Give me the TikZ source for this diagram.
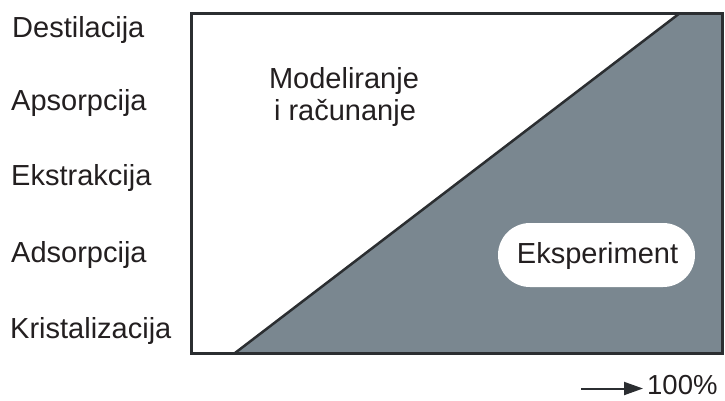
\documentclass[tikz,border=0pt]{standalone}
\usepackage{fontspec}
\setmainfont{Liberation Sans}
\usetikzlibrary{arrows.meta}
\definecolor{ink}{HTML}{231F20}
\definecolor{framec}{HTML}{2B2E31}
\definecolor{slate}{HTML}{7A8790}
\begin{document}
\begin{tikzpicture}[x=1pt,y=-1pt,
  lbl/.style={font=\fontsize{29}{34}\selectfont, text=ink, inner sep=0pt},
  leftlbl/.style={lbl, anchor=base west},
  pillbox/.style={fill=white, draw=none, rounded corners=32pt, minimum width=197pt, minimum height=64pt, inner sep=0pt}]
\useasboundingbox (0,0) rectangle (725,400);
\fill[white] (0,0) rectangle (725,400);
% frame corners
\coordinate (tl) at (191,13);
\coordinate (br) at (722,353);
\coordinate (dbot) at (235,353);
\coordinate (dtop) at (680,13);
\coordinate (tr) at (722,13);
% shaded region
\fill[slate] (dbot) -- (dtop) -- (tr) -- (br) -- cycle;
\draw[framec, line width=2.5pt] (dbot) -- (dtop);
\draw[framec, line width=3pt] (tl) rectangle (br);
% pill
\node[pillbox] (pill) at (596.5,255) {};
\node[lbl, anchor=base] (eks) at (597.5,263) {Eksperiment};
% modeling text
\node[lbl, anchor=base] (mod1) at (344,88) {Modeliranje};
\node[lbl, anchor=base] (mod2) at (345,120) {i računanje};
% left labels
\node[leftlbl] (l1) at (12,37) {Destilacija};
\node[leftlbl] (l2) at (11,110) {Apsorpcija};
\node[leftlbl] (l3) at (11,185) {Ekstrakcija};
\node[leftlbl] (l4) at (11,262) {Adsorpcija};
\node[leftlbl] (l5) at (10,338) {Kristalizacija};
% arrow and 100%
\node[lbl, font=\fontsize{27.5}{32}\selectfont, anchor=base west] (pct) at (647,394) {100\%};
\coordinate (astart) at (581,388.5);
\draw[framec, line width=2pt, shorten >=4pt, -{Triangle[length=19pt,width=13pt]}] (astart) -- (astart -| pct.west);
\end{tikzpicture}
\end{document}
